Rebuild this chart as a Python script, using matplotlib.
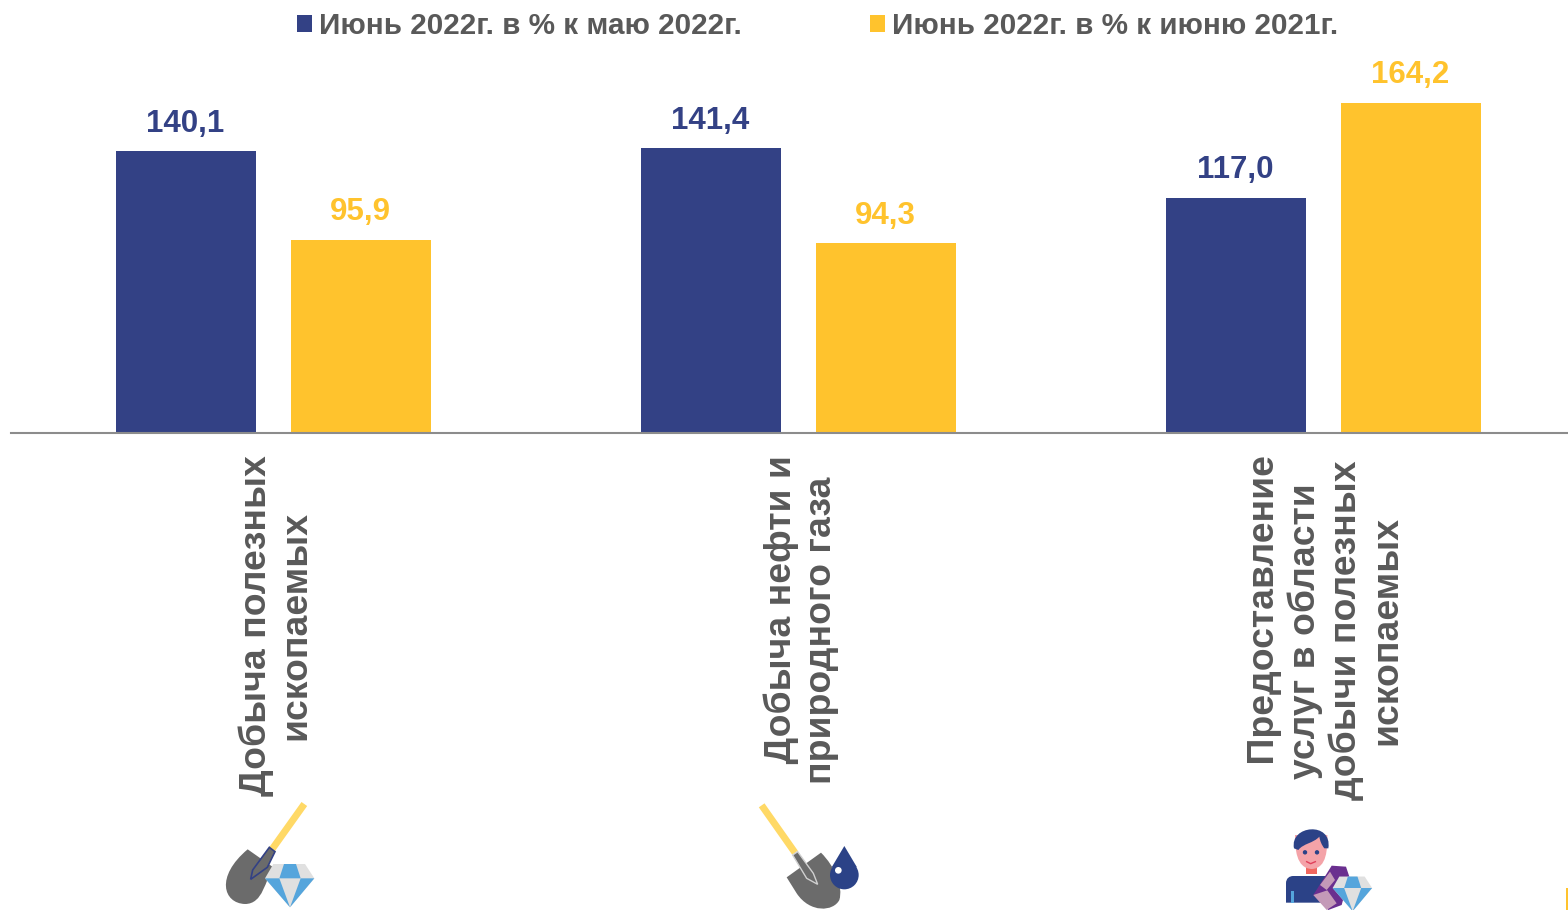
import numpy as np
import matplotlib
matplotlib.use("Agg")
import matplotlib.pyplot as plt
from matplotlib.patches import Polygon, Circle, PathPatch
from matplotlib.path import Path
from matplotlib.transforms import ScaledTranslation

plt.rcParams['font.family'] = ['Liberation Sans', 'DejaVu Sans']

categories = ["Добыча полезных\nископаемых",
              "    Добыча нефти и\nприродного газа",
              "    Предоставление\nуслуг в области\nдобычи полезных\nископаемых"]
may_2022 = [140.1, 141.4, 117.0]
june_2021 = [95.9, 94.3, 164.2]
series_names = ["Июнь 2022г. в % к маю 2022г.", "Июнь 2022г. в % к июню 2021г."]

NAVY = "#334185"
YELLOW = "#FFC32D"
TEXT = "#595959"
GRAY = "#6b6b6b"
BLUE = "#55A5DC"
LIGHT = "#E0E0E0"
PURPLE = "#6A2F8F"
MAUVE = "#C49AB8"
DARK = "#2B4287"


def fmt(v):
    return f"{v:.1f}".replace(".", ",")


def poly(ax, pts, x0, y0, color, edge="none", lw=0, z=1):
    pts = [(x0 + p[0] / 3, y0 + p[1] / 3) for p in pts]
    ax.add_patch(Polygon(pts, closed=True, facecolor=color, edgecolor=edge, linewidth=lw, zorder=z))


def blob(ax, start, curves, x0, y0, color, z=1):
    # start point then cubic segments (3 points each) or straight lines (1 point)
    verts = [start]
    codes = [Path.MOVETO]
    for c in curves:
        verts += c
        codes += [Path.LINETO] if len(c) == 1 else [Path.CURVE4] * 3
    verts.append(start)
    codes.append(Path.CLOSEPOLY)
    verts = [(x0 + p[0] / 3, y0 + p[1] / 3) for p in verts]
    ax.add_patch(PathPatch(Path(verts, codes), facecolor=color, edgecolor="none", zorder=z))


def diamond(ax, x0, y0, dx, dy, k, z=5):
    def d(pts):
        return [(dx + p[0] * k, dy + p[1] * k) for p in pts]
    poly(ax, d([(190, 222), (285, 222), (313, 265), (240, 352), (165, 265)]), x0, y0, LIGHT, z=z)
    poly(ax, d([(222, 222), (258, 222), (272, 265), (208, 265)]), x0, y0, BLUE, z=z + 1)
    poly(ax, d([(165, 265), (208, 265), (240, 352)]), x0, y0, BLUE, z=z + 1)
    poly(ax, d([(272, 265), (313, 265), (240, 352)]), x0, y0, BLUE, z=z + 1)


fig = plt.figure(figsize=(15.68, 9.10), dpi=100)
ax = fig.add_axes([11 / 1568, 1 - 433 / 910, 1557 / 1568, 383 / 910])

x = np.arange(len(categories))
w = 0.2667
off = 0.1667
b1 = ax.bar(x - off, may_2022, w, color=NAVY, label=series_names[0])
b2 = ax.bar(x + off, june_2021, w, color=YELLOW, label=series_names[1])

for r, v in zip(b1, may_2022):
    ax.annotate(fmt(v), (r.get_x() + r.get_width() / 2, v), xytext=(-0.5, 9), textcoords="offset points",
                ha="center", va="bottom", fontsize=22.5, fontweight="bold", color=NAVY)
for r, v in zip(b2, june_2021):
    ax.annotate(fmt(v), (r.get_x() + r.get_width() / 2, v), xytext=(-0.5, 9), textcoords="offset points",
                ha="center", va="bottom", fontsize=22.5, fontweight="bold", color=YELLOW)

ax.set_xlim(-0.5, 2.466)
ax.set_ylim(0, 190.3)
ax.set_yticks([])
ax.set_xticks(x)
ax.set_xticklabels(categories, rotation=90, fontsize=26.9, fontweight="bold", color=TEXT,
                   ha="center", va="top", multialignment="center", linespacing=1.19)
ax.tick_params(axis="x", length=0, pad=16)
nudge = ScaledTranslation(2.5 / 100, 0, fig.dpi_scale_trans)
for lbl in ax.get_xticklabels():
    lbl.set_transform(lbl.get_transform() + nudge)
for s in ["top", "left", "right"]:
    ax.spines[s].set_visible(False)
ax.spines["bottom"].set_color("#8C8C8C")
ax.spines["bottom"].set_linewidth(1.5)

fig.legend(handles=[b1, b2], loc="center left", bbox_to_anchor=(297 / 1568, 1 - 26 / 910), ncols=2, frameon=False,
           labelcolor=TEXT, prop={"weight": "bold", "size": 21.3}, borderaxespad=0, borderpad=0,
           handlelength=0.5, handleheight=0.5, handletextpad=0.24, columnspacing=4.35)

# pictograms under the labels
ov = fig.add_axes([0, 0, 1, 1], facecolor="none")
ov.set_xlim(0, 1568)
ov.set_ylim(910, 0)
ov.axis("off")

# shovel + diamond
x0, y0 = 210, 790
ov.plot([x0 + 283 / 3, x0 + 186 / 3], [y0 + 42 / 3, y0 + 178 / 3], color="#FFD966", lw=5, solid_capstyle="butt", zorder=1)
blob(ov, (113, 178), [[(190, 232)], [(165, 270), (160, 342), (105, 342)], [(40, 340), (15, 260), (113, 178)]], x0, y0, GRAY, z=2)
poly(ov, [(178, 172), (195, 185), (172, 232), (122, 268), (128, 240)], x0, y0, GRAY, edge=NAVY, lw=1.2, z=3)
diamond(ov, x0, y0, 0, 0, 1)

# shovel + drop
x0, y0 = 745, 790
ov.plot([x0 + 50 / 3, x0 + 150 / 3], [y0 + 46 / 3, y0 + 188 / 3], color="#FFD966", lw=5, solid_capstyle="butt", zorder=1)
blob(ov, (125, 262), [[(228, 188)], [(270, 230), (295, 290), (283, 330)], [(265, 365), (195, 370), (155, 310)]], x0, y0, GRAY, z=2)
poly(ov, [(143, 195), (158, 185), (205, 250), (218, 283), (185, 265)], x0, y0, GRAY, edge="#D0D0D0", lw=1, z=3)
ov.add_patch(Circle((x0 + 298 / 3, y0 + 255 / 3), 43 / 3, facecolor=DARK, edgecolor="none", zorder=4))
poly(ov, [(298, 168), (260, 232), (336, 232)], x0, y0, DARK, z=4)
ov.add_patch(Circle((x0 + 280 / 3, y0 + 241 / 3), 10 / 3, facecolor="white", edgecolor="none", zorder=5))

# person + crystals + diamond
x0, y0 = 1270, 815
blob(ov, (48, 263), [[(48, 205)], [(48, 190), (58, 183), (70, 183)], [(185, 183)], [(185, 263)]], x0, y0, DARK, z=1)
poly(ov, [(64, 263), (64, 228), (72, 228), (72, 263)], x0, y0, BLUE, z=2)
poly(ov, [(107, 150), (140, 150), (140, 178), (107, 178)], x0, y0, "#F0675F", z=2)
blob(ov, (75, 60), [[(172, 60)], [(172, 100), (172, 160), (125, 162)], [(78, 160), (75, 100), (75, 60)]], x0, y0, "#F4A3A8", z=3)
blob(ov, (72, 100), [[(58, 30), (188, 18), (175, 100)], [(163, 100)], [(155, 90), (150, 78), (148, 65)], [(130, 85), (100, 85), (85, 105)]],
     x0, y0, DARK, z=4)
ov.add_patch(Circle((x0 + 105 / 3, y0 + 112 / 3), 1.5, color=DARK, zorder=5))
ov.add_patch(Circle((x0 + 141 / 3, y0 + 112 / 3), 1.5, color=DARK, zorder=5))
ov.plot([x0 + 110 / 3, x0 + 122 / 3, x0 + 136 / 3], [y0 + 140 / 3, y0 + 146 / 3, y0 + 140 / 3], color="#E0405A", lw=1, zorder=5)
poly(ov, [(185, 152), (228, 155), (238, 185), (215, 270), (175, 285), (130, 240)], x0, y0, PURPLE, z=6)
poly(ov, [(180, 170), (195, 195), (170, 225), (150, 210)], x0, y0, MAUVE, z=7)
poly(ov, [(130, 240), (172, 226), (200, 265), (170, 285)], x0, y0, MAUVE, z=7)
diamond(ov, x0, y0, 56, 7, 0.8, z=8)

# sliver at the lower right corner
poly(ov, [(108, 54), (114, 54), (114, 120), (108, 120)], 1530, 870, YELLOW, z=1)

fig.savefig("out.png", dpi=100)
